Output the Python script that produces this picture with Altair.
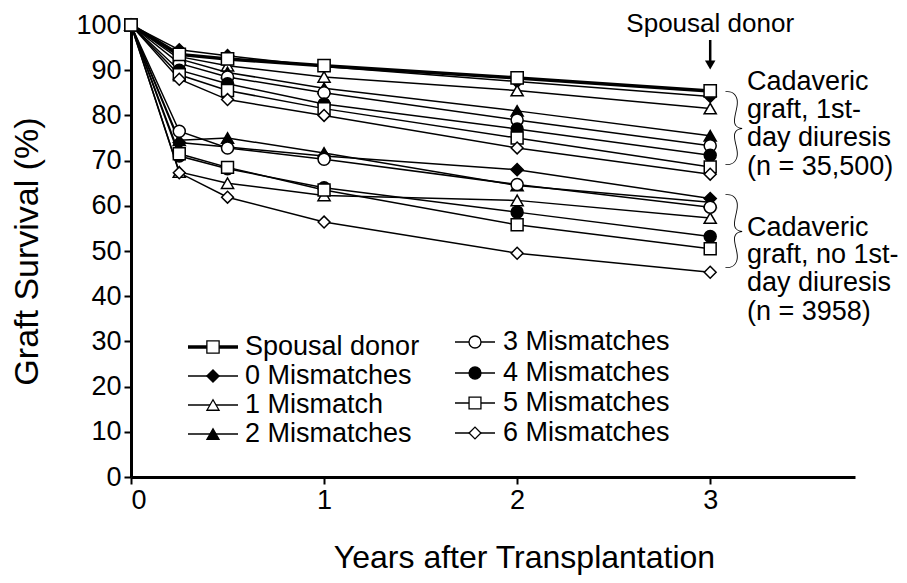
import altair as alt
import pandas as pd

# ---------------- data ----------------
years = [0, 0.25, 0.5, 1, 2, 3]
labels = ["Spousal donor", "0 Mismatches", "1 Mismatch", "2 Mismatches",
          "3 Mismatches", "4 Mismatches", "5 Mismatches", "6 Mismatches"]

spousal_donor = [100, 93.5, 92.5, 91.0, 88.3, 85.4]

# cadaveric graft, 1st-day diuresis
diur_0mm = [100, 94.5, 93.2, 90.8, 87.5, 84.2]
diur_1mm = [100, 93.0, 91.0, 88.5, 85.5, 81.5]
diur_2mm = [100, 92.5, 89.5, 86.0, 81.0, 75.5]
diur_3mm = [100, 91.5, 88.5, 85.0, 79.0, 73.3]
diur_4mm = [100, 90.0, 87.0, 82.5, 77.0, 71.2]
diur_5mm = [100, 89.0, 85.5, 81.5, 75.0, 68.6]
diur_6mm = [100, 88.0, 83.5, 80.0, 72.8, 67.0]

# cadaveric graft, no 1st-day diuresis
nodiur_0mm = [100, 74.0, 73.0, 71.0, 68.0, 61.6]
nodiur_1mm = [100, 67.5, 65.0, 62.3, 61.2, 57.3]
nodiur_2mm = [100, 74.5, 75.0, 71.7, 64.5, 60.8]
nodiur_3mm = [100, 76.5, 72.8, 70.3, 64.7, 59.7]
nodiur_4mm = [100, 71.0, 68.2, 64.0, 58.6, 53.2]
nodiur_5mm = [100, 71.5, 68.5, 63.5, 55.8, 50.5]
nodiur_6mm = [100, 67.3, 61.9, 56.4, 49.5, 45.3]

upper_text = ["Cadaveric", "graft, 1st-", "day diuresis", "(n = 35,500)"]
lower_text = ["Cadaveric", "graft, no 1st-", "day diuresis", "(n = 3958)"]

# ---------------- table ----------------
series = [("Spousal donor", "spousal", spousal_donor)]
for lab, u, l in zip(labels[1:],
                     [diur_0mm, diur_1mm, diur_2mm, diur_3mm, diur_4mm, diur_5mm, diur_6mm],
                     [nodiur_0mm, nodiur_1mm, nodiur_2mm, nodiur_3mm, nodiur_4mm, nodiur_5mm, nodiur_6mm]):
    series.append((lab, "diuresis", u))
    series.append((lab, "no diuresis", l))

rows = []
for lab, grp, vals in series:
    for yr, v in zip(years, vals):
        rows.append({"label": lab, "line": lab + "|" + grp, "year": yr, "surv": v})
df = pd.DataFrame(rows)
df["order"] = (df["label"] == "Spousal donor").astype(int)
df = df.sort_values("order", kind="stable")

# ---------------- layout helpers (page pixel -> data) ----------------
LEFT, TOP = 131, 25
W, H = 724, 452
XMAX = 3.75
def dx(px):
    return (px - LEFT) / W * XMAX
def dy(py):
    return 100 - (py - TOP) / H * 100

FONT = "Liberation Sans"
shapes = ["square", "diamond", "triangle-up", "triangle-up", "circle", "circle", "square", "diamond"]
fills = ["white", "black", "white", "black", "white", "black", "white", "white"]
sizes = [150, 140, 130, 130, 160, 160, 130, 110]
leg_sizes = [90, 75, 70, 70, 80, 80, 70, 55]

xscale = alt.Scale(domain=[0, XMAX], nice=False, zero=False)
yscale = alt.Scale(domain=[0, 100], nice=False)

xenc = alt.X("year:Q", scale=xscale,
             axis=alt.Axis(values=[0, 1, 2, 3], format="d",
                           title="Years after Transplantation",
                           titleX=393, titleY=80, titleAlign="center",
                           titleBaseline="middle", titleFontSize=32))
yenc = alt.Y("surv:Q", scale=yscale,
             axis=alt.Axis(values=list(range(0, 101, 10)),
                           title="Graft Survival (%)",
                           titleX=-104, titleY=H / 2, titleAngle=270,
                           titleAlign="center", titleBaseline="middle", titleFontSize=34))

lines = alt.Chart(df).mark_line(color="black").encode(
    x=xenc, y=yenc, detail="line:N",
    strokeWidth=alt.condition(alt.datum.label == "Spousal donor", alt.value(3.5), alt.value(1.5)),
)

points = alt.Chart(df).mark_point(filled=True, stroke="black", strokeWidth=1.5, opacity=1).encode(
    x="year:Q", y="surv:Q",
    shape=alt.Shape("label:N", scale=alt.Scale(domain=labels, range=shapes), legend=None),
    fill=alt.Fill("label:N", scale=alt.Scale(domain=labels, range=fills), legend=None),
    size=alt.Size("label:N", scale=alt.Scale(domain=labels, range=sizes), legend=None),
)

# ---------------- custom legend ----------------
leg = []
for i, lab in enumerate(labels):
    col, r = divmod(i, 4)
    if col == 0:
        sx, x1, x2, tx, yy = 213, 188, 238, 245, [347, 376, 405, 434][r]
    else:
        sx, x1, x2, tx, yy = 475, 455, 495, 503, [342, 373, 403, 433][r]
    leg.append({"label": lab, "sx": dx(sx), "x1": dx(x1), "x2": dx(x2),
                "tx": dx(tx), "ly": dy(yy),
                "w": 3.5 if lab == "Spousal donor" else 1.5})
leg_df = pd.DataFrame(leg)

leg_lines = alt.Chart(leg_df).mark_rule(color="black").encode(
    x="x1:Q", x2="x2:Q", y="ly:Q",
    strokeWidth=alt.StrokeWidth("w:Q", scale=None),
)
leg_pts = alt.Chart(leg_df).mark_point(filled=True, stroke="black", strokeWidth=1.3, opacity=1).encode(
    x="sx:Q", y="ly:Q",
    shape=alt.Shape("label:N", scale=alt.Scale(domain=labels, range=shapes), legend=None),
    fill=alt.Fill("label:N", scale=alt.Scale(domain=labels, range=fills), legend=None),
    size=alt.Size("label:N", scale=alt.Scale(domain=labels, range=leg_sizes), legend=None),
)
leg_txt = alt.Chart(leg_df).mark_text(align="left", baseline="middle", font=FONT,
                                      fontSize=27, color="black").encode(
    x="tx:Q", y="ly:Q", text="label:N")

# ---------------- annotations ----------------
ann = []
for t, yy in zip(upper_text, [82, 110, 138, 167]):
    ann.append({"t": t, "ax": dx(747), "ay": dy(yy)})
for t, yy in zip(lower_text, [228, 255, 283, 312]):
    ann.append({"t": t, "ax": dx(747), "ay": dy(yy)})
ann_df = pd.DataFrame(ann)
ann_txt = alt.Chart(ann_df).mark_text(align="left", baseline="middle", font=FONT,
                                      fontSize=27, color="black").encode(
    x="ax:Q", y="ay:Q", text="t:N")

top_df = pd.DataFrame([{"t": "Spousal donor", "ax": 3, "ay": dy(24)}])
top_txt = alt.Chart(top_df).mark_text(align="center", baseline="middle", font=FONT,
                                      fontSize=26, color="black").encode(
    x="ax:Q", y="ay:Q", text="t:N")

arrow_df = pd.DataFrame([{"ax": 3, "y1": dy(40), "y2": dy(64), "yh": dy(65)}])
arrow_shaft = alt.Chart(arrow_df).mark_rule(color="black", strokeWidth=2.5).encode(
    x="ax:Q", y="y1:Q", y2="y2:Q")
arrow_head = alt.Chart(arrow_df).mark_point(shape="triangle-down", filled=True, color="black",
                                            size=110, opacity=1).encode(x="ax:Q", y="yh:Q")

brace_df = pd.DataFrame([{"bx": dx(734), "by": dy(127)}, {"bx": dx(734), "by": dy(230)}])
braces = alt.Chart(brace_df).mark_text(text="}", align="center", baseline="middle",
                                       font="Lato", fontWeight=100, fontSize=84,
                                       color="black", dy=3).encode(x="bx:Q", y="by:Q")

chart = alt.layer(lines, points, leg_lines, leg_pts, leg_txt, ann_txt, top_txt,
                  arrow_shaft, arrow_head, braces).properties(
    width=W, height=H,
    autosize=alt.AutoSizeParams(type="none"),
    padding={"left": LEFT - 8, "top": TOP - 8, "right": 44, "bottom": 567 - (TOP - 8) - H},
    background="white",
).configure_view(stroke=None).configure_axis(
    grid=False, domainColor="black", domainWidth=3, tickColor="black", tickWidth=2,
    tickSize=7, labelColor="black", labelFont=FONT, labelFontSize=27, labelPadding=3,
    titleColor="black", titleFont=FONT, titleFontWeight="normal",
)

chart.save("out.html", embed_options={"renderer": "svg", "actions": False})
